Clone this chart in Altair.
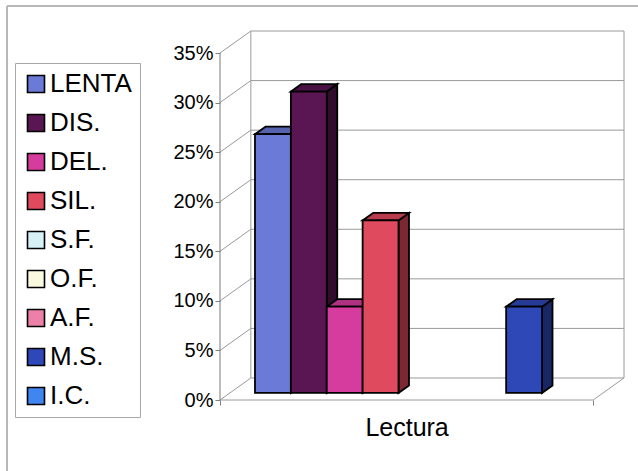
import altair as alt
import pandas as pd

# ---- data -------------------------------------------------------------
series = ["LENTA", "DIS.", "DEL.", "SIL.", "S.F.", "O.F.", "A.F.", "M.S.", "I.C."]
values = [26.1, 30.4, 8.7, 17.4, 0.0, 0.0, 0.0, 8.7, 0.0]   # percent
category = "Lectura"
y_ticks = [0, 5, 10, 15, 20, 25, 30, 35]

face_colors = ["#6a7ad6", "#5a1652", "#d63c9e", "#e04a5e", "#d6f2f6",
               "#fafae0", "#ec80a8", "#2f48b8", "#3f86f0"]

# ---- 3-D box geometry, in scale units (x: one bar = 1, y: percent) -----
N = len(series)
GAP = 0.7                      # empty space at each end of the category
FLOOR_LEN = N + 2 * GAP        # length of the front edge of the floor
WALL_DX, WALL_DY = 0.86, 2.22  # depth vector from front plane to back wall
F1, F2 = 0.32, 0.66            # depth slice occupied by the columns
Y_TOP = max(y_ticks)
X_MAX = FLOOR_LEN + WALL_DX
Y_MAX = Y_TOP + WALL_DY

W, H = 404, 369
FONT = "Liberation Sans"
EDGE = 1.8                     # outline width of the columns


def shade(hex_color, k):
    r, g, b = (int(hex_color[i:i + 2], 16) for i in (1, 3, 5))
    return "#%02x%02x%02x" % tuple(max(0, min(255, int(c * k))) for c in (r, g, b))


# ---- tables built from the lists above ---------------------------------
dx, dy = (F2 - F1) * WALL_DX, (F2 - F1) * WALL_DY
base_y = F1 * WALL_DY
front_rows, top_rows, side_rows = [], [], []
for i, (s, v, c) in enumerate(zip(series, values, face_colors)):
    if v <= 0:
        continue
    x0 = GAP + i + F1 * WALL_DX
    x1 = x0 + 1
    yt = base_y + v
    front_rows.append(dict(serie=s, x0=x0, x1=x1, y0=base_y, y1=yt))
    tc, sc = shade(c, 0.82), shade(c, 0.55)
    top_rows += [dict(serie=s, y=yt, xa=x0, xb=x1, col=tc),
                 dict(serie=s, y=yt + dy, xa=x0 + dx, xb=x1 + dx, col=tc)]
    side_rows += [dict(serie=s, x=x1, ya=base_y, yb=yt, col=sc),
                  dict(serie=s, x=x1 + dx, ya=base_y + dy, yb=yt + dy, col=sc)]

front = pd.DataFrame(front_rows)
tops = pd.DataFrame(top_rows)
sides = pd.DataFrame(side_rows)

# walls, floor and gridlines of the 3-D box
seg = []
for t in y_ticks:
    seg.append(dict(x=WALL_DX, y=t + WALL_DY, x2=FLOOR_LEN + WALL_DX, y2=t + WALL_DY, kind="grid"))
    seg.append(dict(x=0, y=t, x2=WALL_DX, y2=t + WALL_DY, kind="grid"))
seg += [
    dict(x=WALL_DX, y=WALL_DY, x2=WALL_DX, y2=Y_MAX, kind="grid"),
    dict(x=X_MAX, y=WALL_DY, x2=X_MAX, y2=Y_MAX, kind="grid"),
    dict(x=0, y=0, x2=FLOOR_LEN, y2=0, kind="grid"),
    dict(x=FLOOR_LEN, y=0, x2=X_MAX, y2=WALL_DY, kind="grid"),
    dict(x=0, y=0, x2=0, y2=Y_TOP, kind="axis"),
]
lines = pd.DataFrame(seg)

# ---- scales and axes ---------------------------------------------------
xs = alt.Scale(domain=[0, X_MAX], nice=False, zero=False)
ys = alt.Scale(domain=[0, Y_MAX], nice=False, zero=False)

x_axis = alt.Axis(values=[0, FLOOR_LEN], labels=False, ticks=True, tickSize=5,
                  tickColor="#808080", domain=False, grid=False, title=category,
                  titleFont=FONT, titleFontSize=25, titleFontWeight="normal",
                  titleColor="black", titleX=FLOOR_LEN / 2 / X_MAX * W, titleY=15,
                  titleAlign="center", titleBaseline="top")
y_axis = alt.Axis(values=y_ticks, labelExpr="datum.value + '%'", grid=False,
                  domain=False, tickSize=5, tickColor="#808080", labelFont=FONT,
                  labelFontSize=20, labelColor="black", labelPadding=2, title=None)

walls = alt.Chart(lines).mark_rule(strokeWidth=1).encode(
    x=alt.X("x:Q", scale=xs, axis=x_axis),
    y=alt.Y("y:Q", scale=ys, axis=y_axis),
    x2="x2:Q",
    y2="y2:Q",
    stroke=alt.Stroke("kind:N", scale=alt.Scale(domain=["grid", "axis"],
                                                range=["#9a9a9a", "#7a7a7a"]),
                      legend=None),
)

# right-hand faces of the columns (one parallelogram per column)
side_layer = alt.Chart(sides).mark_area(orient="vertical", stroke="black",
                                        strokeWidth=EDGE, opacity=1).encode(
    x=alt.X("x:Q", scale=xs, axis=x_axis),
    y=alt.Y("ya:Q", scale=ys, axis=y_axis, stack=None),
    y2="yb:Q",
    detail="serie:N",
    fill=alt.Fill("col:N", scale=None),
)

# top faces of the columns
top_layer = alt.Chart(tops).mark_area(orient="horizontal", stroke="black",
                                      strokeWidth=EDGE, opacity=1).encode(
    y=alt.Y("y:Q", scale=ys, axis=y_axis),
    x=alt.X("xa:Q", scale=xs, axis=x_axis, stack=None),
    x2="xb:Q",
    detail="serie:N",
    fill=alt.Fill("col:N", scale=None),
)

# front faces of the columns
front_layer = alt.Chart(front).mark_rect(stroke="black", strokeWidth=EDGE, opacity=1).encode(
    x=alt.X("x0:Q", scale=xs, axis=x_axis),
    x2="x1:Q",
    y=alt.Y("y0:Q", scale=ys, axis=y_axis),
    y2="y1:Q",
    color=alt.Color(
        "serie:N",
        scale=alt.Scale(domain=series, range=face_colors),
        legend=alt.Legend(
            title=None, orient="none", legendX=-205, legendY=32,
            symbolType="square", symbolSize=289, symbolStrokeColor="black",
            symbolStrokeWidth=1.6, symbolOpacity=1,
            labelFont=FONT, labelFontSize=26, labelColor="black",
            labelOffset=1, rowPadding=13, padding=8,
            fillColor="white", strokeColor="#a8a8a8",
        ),
    ),
)

# outer frame of the chart area
frame_top = alt.Chart(lines).mark_rule(color="#b8b8b8", strokeWidth=1).encode(
    x=alt.value(-213), x2=alt.value(W + 20), y=alt.value(-25))
frame_left = alt.Chart(lines).mark_rule(color="#b8b8b8", strokeWidth=1).encode(
    x=alt.value(-213), y=alt.value(-25), y2=alt.value(H + 80))

chart = alt.layer(
    frame_top, frame_left, walls, side_layer, top_layer, front_layer
).properties(
    width=W, height=H,
    padding={"left": 220, "top": 31, "right": 14, "bottom": 71},
    autosize=alt.AutoSizeParams(type="none"),
    background="white",
).configure_view(stroke=None)

chart.save("out.html", embed_options={"renderer": "svg", "actions": False})
